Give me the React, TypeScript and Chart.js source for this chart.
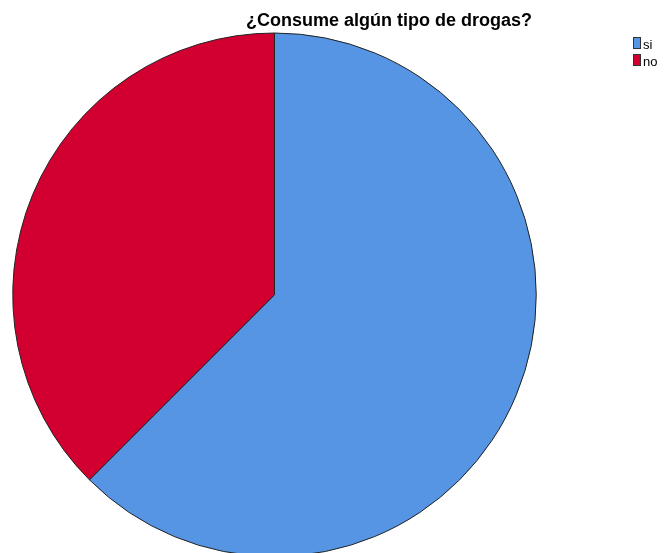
import React, { useEffect, useRef } from "react";
import { Chart, registerables, Plugin } from "chart.js";

Chart.register(...registerables);

const categories = ["si", "no"];
const shares = [62.5, 37.5];
const sliceColors = ["#5595e3", "#d20030"];
const chartTitle = "¿Consume algún tipo de drogas?";

// Title and legend are painted at fixed spots, in the style of the SPSS output.
const decorPlugin: Plugin<"pie"> = {
  id: "decor",
  afterDraw(chart) {
    const ctx = chart.ctx;
    ctx.save();
    ctx.fillStyle = "#000";
    ctx.font = 'bold 18px "Liberation Sans", Arial, sans-serif';
    ctx.textAlign = "center";
    ctx.textBaseline = "alphabetic";
    ctx.fillText(chartTitle, 389, 26);

    const labels = chart.data.labels as string[];
    const colors = chart.data.datasets[0].backgroundColor as string[];
    ctx.font = '13px "Liberation Sans", Arial, sans-serif';
    ctx.textAlign = "left";
    labels.forEach((lab, i) => {
      const y = 37 + i * 17;
      ctx.fillStyle = colors[i];
      ctx.fillRect(633.5, y + 0.5, 7, 11);
      ctx.strokeStyle = "#333";
      ctx.lineWidth = 1;
      ctx.strokeRect(633.5, y + 0.5, 7, 11);
      ctx.fillStyle = "#000";
      ctx.fillText(lab, 643, y + 12);
    });
    ctx.restore();
  },
};

export default function App() {
  const ref = useRef<HTMLCanvasElement>(null);

  useEffect(() => {
    if (!ref.current) return;
    const chart = new Chart(ref.current, {
      type: "pie",
      data: {
        labels: categories,
        datasets: [
          {
            data: shares,
            backgroundColor: sliceColors,
            borderColor: "#222",
            borderWidth: 1,
          },
        ],
      },
      options: {
        responsive: false,
        animation: false,
        devicePixelRatio: 1,
        layout: { padding: { left: 12, right: 131, top: 32.5, bottom: 3 } },
        plugins: {
          legend: { display: false },
          title: { display: false },
          tooltip: { enabled: false },
        },
      },
      plugins: [decorPlugin],
    });
    return () => chart.destroy();
  }, []);

  return (
    <div style={{ position: "fixed", left: 0, top: 0, width: 668, height: 560, background: "#fff" }}>
      <canvas ref={ref} width={668} height={560} style={{ display: "block" }} />
    </div>
  );
}
